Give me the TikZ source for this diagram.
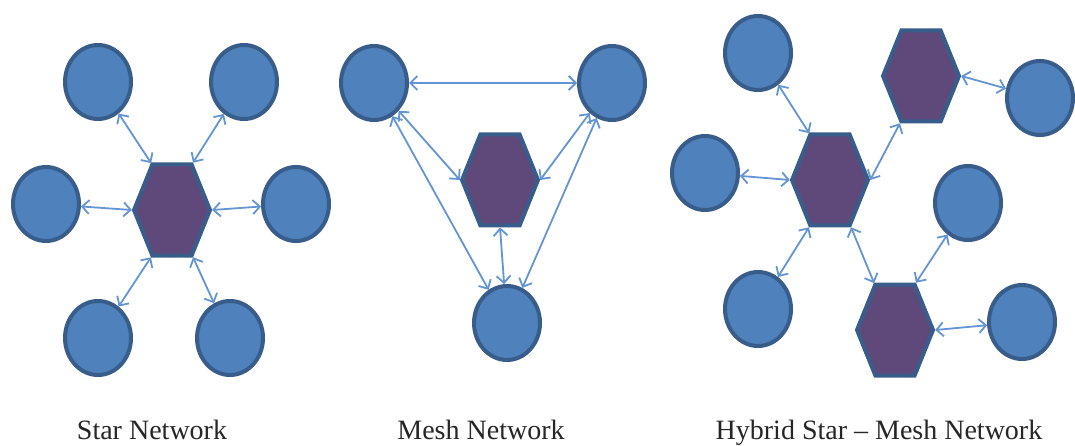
\documentclass[tikz,border=0pt]{standalone}
\usepackage{fontspec}
\setmainfont{Liberation Serif}
\usepackage{tikz}
\usetikzlibrary{shapes,shapes.geometric,shapes.symbols,arrows.meta}
\definecolor{leafblue}{RGB}{79,129,189}
\definecolor{rimblue}{RGB}{56,93,138}
\definecolor{hubpurple}{RGB}{95,73,122}
\definecolor{linkblue}{RGB}{100,149,210}

\begin{document}
\begin{tikzpicture}[x=1pt,y=-1pt]
			\tikzset{hub/.style={signal,signal to=east and west,signal pointer angle=136,minimum width=76pt,minimum height=91pt,inner sep=0pt,fill=hubpurple,draw=rimblue,line width=4pt}}
			\tikzset{leaf/.style={ellipse,minimum width=66pt,minimum height=74pt,inner sep=0pt,fill=leafblue,draw=rimblue,line width=4pt}}
			\tikzset{link/.style={draw=linkblue,line width=1.8pt,{Straight Barb[length=7pt,width=14pt]}-{Straight Barb[length=7pt,width=14pt]}}}
			\tikzset{caption/.style={font=\fontsize{28}{30}\selectfont,anchor=base,text=black!85}}
			\useasboundingbox (0,0) rectangle (1075,446);
			% star
			\node[hub] (hs) at (172,210) {};
			\node[leaf] (s1) at (98,82) {};
			\node[leaf] (s2) at (244,82) {};
			\node[leaf] (s3) at (46,204) {};
			\node[leaf] (s4) at (296,204) {};
			\node[leaf] (s5) at (98,338) {};
			\node[leaf] (s6) at (230,338) {};
			\draw[link] (s1) -- (hs.114);
			\draw[link] (s2) -- (hs.66);
			\draw[link] (s3) -- (hs.west);
			\draw[link] (s4) -- (hs.east);
			\draw[link] (s5) -- (hs.246);
			\draw[link] (s6) -- (hs.294);
			% mesh
			\node[hub] (hm) at (500,180) {};
			\node[leaf] (m1) at (374,83) {};
			\node[leaf] (m2) at (612,83) {};
			\node[leaf] (m3) at (507,323) {};
			\draw[link] (m1) -- (m2);
			\draw[link] (m1) -- (hm.west);
			\draw[link] (m2) -- (hm.east);
			\draw[link] (m1) -- (m3);
			\draw[link] (m2) -- (m3);
			\draw[link] (hm.south) -- (m3);
			% hybrid
			\node[hub] (h1) at (830,180) {};
			\node[hub] (h2) at (921,76) {};
			\node[hub] (h3) at (895,330) {};
			\node[leaf] (ha) at (758,53) {};
			\node[leaf] (hb) at (1040,98) {};
			\node[leaf] (hc) at (705,173) {};
			\node[leaf] (hd) at (968,203) {};
			\node[leaf] (he) at (758,309) {};
			\node[leaf] (hf) at (1022,322) {};
			\draw[link] (ha) -- (h1.114);
			\draw[link] (hc) -- (h1.west);
			\draw[link] (he) -- (h1.246);
			\draw[link] (h1.east) -- (h2.246);
			\draw[link] (h1.294) -- (h3.114);
			\draw[link] (h3.66) -- (hd);
			\draw[link] (h3.east) -- (hf);
			\draw[link] (h2.east) -- (hb);
			\node[caption] (cs) at (152,439) {Star Network};
			\node[caption] (cm) at (481,439) {Mesh Network};
			\node[caption] (ch) at (879,439) {Hybrid Star – Mesh Network};
		\end{tikzpicture}
\end{document}
